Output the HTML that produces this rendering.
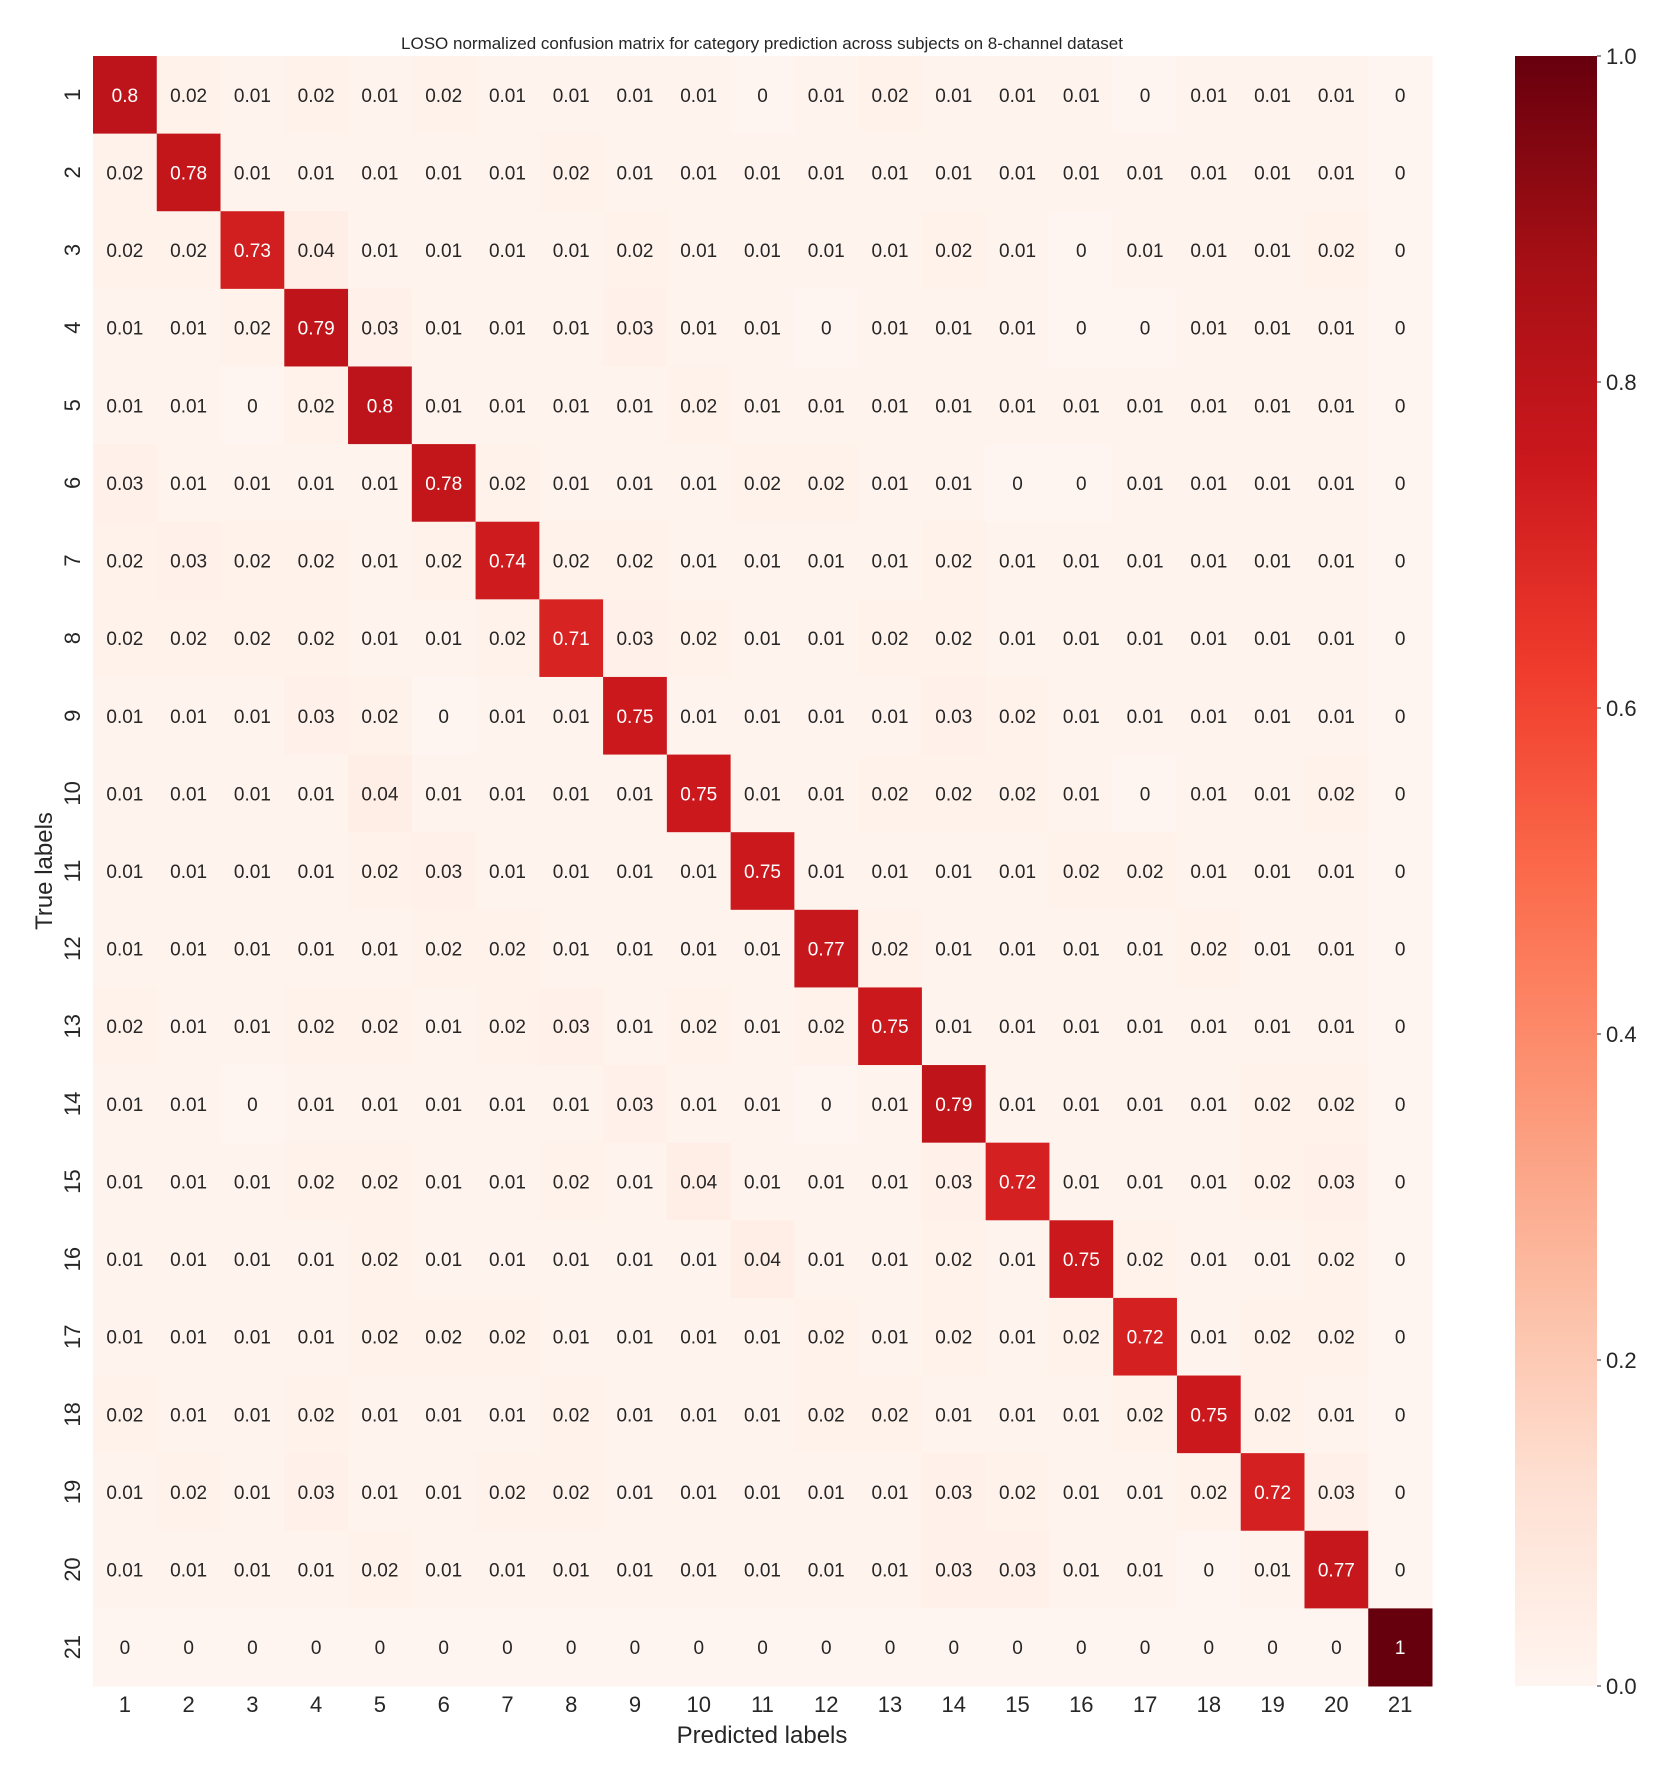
<!DOCTYPE html>
<html><head><meta charset="utf-8"><style>
html,body{margin:0;padding:0;background:#fff;}
svg{display:block;font-family:"Liberation Sans",Arial,sans-serif;}
</style></head><body>
<svg id="chart" width="1673" height="1779" viewBox="0 0 1673 1779">
<defs>
<linearGradient id="cbgrad" x1="0" y1="1" x2="0" y2="0">
<stop offset="0" stop-color="#fff5f0"/><stop offset="0.125" stop-color="#fee0d2"/><stop offset="0.25" stop-color="#fcbba1"/><stop offset="0.375" stop-color="#fc9272"/><stop offset="0.5" stop-color="#fb6a4a"/><stop offset="0.625" stop-color="#ef3b2c"/><stop offset="0.75" stop-color="#cb181d"/><stop offset="0.875" stop-color="#a50f15"/><stop offset="1" stop-color="#67000d"/>
</linearGradient>
</defs>
<text x="762" y="49" font-size="17" fill="#262626" text-anchor="middle">LOSO normalized confusion matrix for category prediction across subjects on 8-channel dataset</text>
<g id="cells"></g>
<g id="xticks"></g>
<g id="yticks"></g>
<text x="762" y="1743" font-size="24" fill="#262626" text-anchor="middle">Predicted labels</text>
<text x="0" y="0" font-size="24" fill="#262626" text-anchor="middle" transform="translate(52,871) rotate(-90)">True labels</text>
<rect x="1515" y="56" width="82" height="1630" fill="url(#cbgrad)"/>
<g id="cbticks"></g>
</svg>
<script>
const labels = ["1","2","3","4","5","6","7","8","9","10","11","12","13","14","15","16","17","18","19","20","21"];
const row1 = [0.8,0.02,0.01,0.02,0.01,0.02,0.01,0.01,0.01,0.01,0,0.01,0.02,0.01,0.01,0.01,0,0.01,0.01,0.01,0];
const row2 = [0.02,0.78,0.01,0.01,0.01,0.01,0.01,0.02,0.01,0.01,0.01,0.01,0.01,0.01,0.01,0.01,0.01,0.01,0.01,0.01,0];
const row3 = [0.02,0.02,0.73,0.04,0.01,0.01,0.01,0.01,0.02,0.01,0.01,0.01,0.01,0.02,0.01,0,0.01,0.01,0.01,0.02,0];
const row4 = [0.01,0.01,0.02,0.79,0.03,0.01,0.01,0.01,0.03,0.01,0.01,0,0.01,0.01,0.01,0,0,0.01,0.01,0.01,0];
const row5 = [0.01,0.01,0,0.02,0.8,0.01,0.01,0.01,0.01,0.02,0.01,0.01,0.01,0.01,0.01,0.01,0.01,0.01,0.01,0.01,0];
const row6 = [0.03,0.01,0.01,0.01,0.01,0.78,0.02,0.01,0.01,0.01,0.02,0.02,0.01,0.01,0,0,0.01,0.01,0.01,0.01,0];
const row7 = [0.02,0.03,0.02,0.02,0.01,0.02,0.74,0.02,0.02,0.01,0.01,0.01,0.01,0.02,0.01,0.01,0.01,0.01,0.01,0.01,0];
const row8 = [0.02,0.02,0.02,0.02,0.01,0.01,0.02,0.71,0.03,0.02,0.01,0.01,0.02,0.02,0.01,0.01,0.01,0.01,0.01,0.01,0];
const row9 = [0.01,0.01,0.01,0.03,0.02,0,0.01,0.01,0.75,0.01,0.01,0.01,0.01,0.03,0.02,0.01,0.01,0.01,0.01,0.01,0];
const row10 = [0.01,0.01,0.01,0.01,0.04,0.01,0.01,0.01,0.01,0.75,0.01,0.01,0.02,0.02,0.02,0.01,0,0.01,0.01,0.02,0];
const row11 = [0.01,0.01,0.01,0.01,0.02,0.03,0.01,0.01,0.01,0.01,0.75,0.01,0.01,0.01,0.01,0.02,0.02,0.01,0.01,0.01,0];
const row12 = [0.01,0.01,0.01,0.01,0.01,0.02,0.02,0.01,0.01,0.01,0.01,0.77,0.02,0.01,0.01,0.01,0.01,0.02,0.01,0.01,0];
const row13 = [0.02,0.01,0.01,0.02,0.02,0.01,0.02,0.03,0.01,0.02,0.01,0.02,0.75,0.01,0.01,0.01,0.01,0.01,0.01,0.01,0];
const row14 = [0.01,0.01,0,0.01,0.01,0.01,0.01,0.01,0.03,0.01,0.01,0,0.01,0.79,0.01,0.01,0.01,0.01,0.02,0.02,0];
const row15 = [0.01,0.01,0.01,0.02,0.02,0.01,0.01,0.02,0.01,0.04,0.01,0.01,0.01,0.03,0.72,0.01,0.01,0.01,0.02,0.03,0];
const row16 = [0.01,0.01,0.01,0.01,0.02,0.01,0.01,0.01,0.01,0.01,0.04,0.01,0.01,0.02,0.01,0.75,0.02,0.01,0.01,0.02,0];
const row17 = [0.01,0.01,0.01,0.01,0.02,0.02,0.02,0.01,0.01,0.01,0.01,0.02,0.01,0.02,0.01,0.02,0.72,0.01,0.02,0.02,0];
const row18 = [0.02,0.01,0.01,0.02,0.01,0.01,0.01,0.02,0.01,0.01,0.01,0.02,0.02,0.01,0.01,0.01,0.02,0.75,0.02,0.01,0];
const row19 = [0.01,0.02,0.01,0.03,0.01,0.01,0.02,0.02,0.01,0.01,0.01,0.01,0.01,0.03,0.02,0.01,0.01,0.02,0.72,0.03,0];
const row20 = [0.01,0.01,0.01,0.01,0.02,0.01,0.01,0.01,0.01,0.01,0.01,0.01,0.01,0.03,0.03,0.01,0.01,0,0.01,0.77,0];
const row21 = [0,0,0,0,0,0,0,0,0,0,0,0,0,0,0,0,0,0,0,0,1];
const matrix = [row1,row2,row3,row4,row5,row6,row7,row8,row9,row10,row11,row12,row13,row14,row15,row16,row17,row18,row19,row20,row21];
const cbTicks = [0,0.2,0.4,0.6,0.8,1.0];

const NS = "http://www.w3.org/2000/svg";
const X0 = 93, X1 = 1432, Y0 = 56, Y1 = 1686;
const n = labels.length;
const cw = (X1 - X0) / n, ch = (Y1 - Y0) / n;
function xPos(i){ return X0 + i * cw; }
function yPos(i){ return Y0 + i * ch; }
function cbY(v){ return Y1 - v * (Y1 - Y0); }
const stops = ["#fff5f0","#fee0d2","#fcbba1","#fc9272","#fb6a4a","#ef3b2c","#cb181d","#a50f15","#67000d"].map(h=>[parseInt(h.slice(1,3),16),parseInt(h.slice(3,5),16),parseInt(h.slice(5,7),16)]);
function color(v){
  v = Math.max(0, Math.min(1, v));
  const t = v * 8, k = Math.min(7, Math.floor(t)), f = t - k;
  const c = stops[k].map((a,j)=>Math.round(a + (stops[k+1][j]-a)*f));
  return "rgb(" + c.join(",") + ")";
}
function mk(tag, attrs){ const e = document.createElementNS(NS, tag); for (const k in attrs) e.setAttribute(k, attrs[k]); return e; }
const cells = document.getElementById("cells");
matrix.forEach((row, r) => {
  row.forEach((v, c) => {
    const rect = mk("rect", {x: xPos(c), y: yPos(r), width: cw + 0.5, height: ch + 0.5, fill: color(v)});
    
    
    cells.appendChild(rect);
  });
});
matrix.forEach((row, r) => {
  row.forEach((v, c) => {
    const t = mk("text", {x: xPos(c) + cw/2, y: yPos(r) + ch/2 + 7, "font-size": 19, "text-anchor": "middle", fill: v > 0.5 ? "#ffffff" : "#262626"});
    t.textContent = String(v);
    
    
    cells.appendChild(t);
  });
});
const xt = document.getElementById("xticks");
labels.forEach((l, i) => {
  const t = mk("text", {x: xPos(i) + cw/2, y: 1712, "font-size": 22, "text-anchor": "middle", fill: "#262626"});
  t.textContent = l;
  
  
  xt.appendChild(t);
});
const yt = document.getElementById("yticks");
labels.forEach((l, i) => {
  const cy = yPos(i) + ch/2;
  const t = mk("text", {x: 0, y: 0, "font-size": 22, "text-anchor": "middle", fill: "#262626", transform: "translate(80," + cy + ") rotate(-90)"});
  t.textContent = l;
  
  
  yt.appendChild(t);
});
const cb = document.getElementById("cbticks");
cbTicks.forEach(v => {
  const y = cbY(v);
  const ln = mk("line", {x1: 1597, x2: 1601, y1: y, y2: y, stroke: "#262626", "stroke-width": 1});
  
  
  cb.appendChild(ln);
  const t = mk("text", {x: 1606, y: y + 8, "font-size": 22, fill: "#262626"});
  t.textContent = v.toFixed(1);
  
  
  cb.appendChild(t);
});
</script>
</body></html>
